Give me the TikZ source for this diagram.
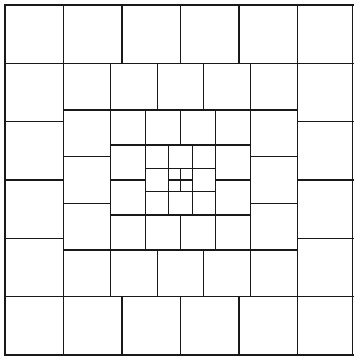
\documentclass[tikz,border=0pt]{standalone}
\begin{document}
\begin{tikzpicture}[x=1pt,y=-1pt,sq/.style={draw=black!90,line width=1.1pt}]
\useasboundingbox (0,0) rectangle (353,358);
\fill[white] (0,0) rectangle (353,358);
\foreach \rn/\ra/\rb in {6/0/1, 5/0.1666667/0.8333333, 4/0.3/0.7, 3/0.4/0.6, 2/0.4666667/0.5333333} {
  \pgfmathsetmacro\rs{(\rb-\ra)/\rn}
  \pgfmathtruncatemacro\rm{\rn-1}
  \foreach \i in {0,...,\rm} {
    \foreach \j in {0,...,\rm} {
      \pgfmathtruncatemacro\onb{or(or(\i==0,\j==0),or(\i==\rm,\j==\rm))}
      \ifnum\onb>0
        \draw[sq] ({5+351*(\ra+\i*\rs)},{5+350*(\ra+\j*\rs)}) rectangle ({5+351*(\ra+(\i+1)*\rs)},{5+350*(\ra+(\j+1)*\rs)});
      \fi
    }
  }
}
\draw[sq] (5,5) rectangle (352.3,355);
\end{tikzpicture}
\end{document}
